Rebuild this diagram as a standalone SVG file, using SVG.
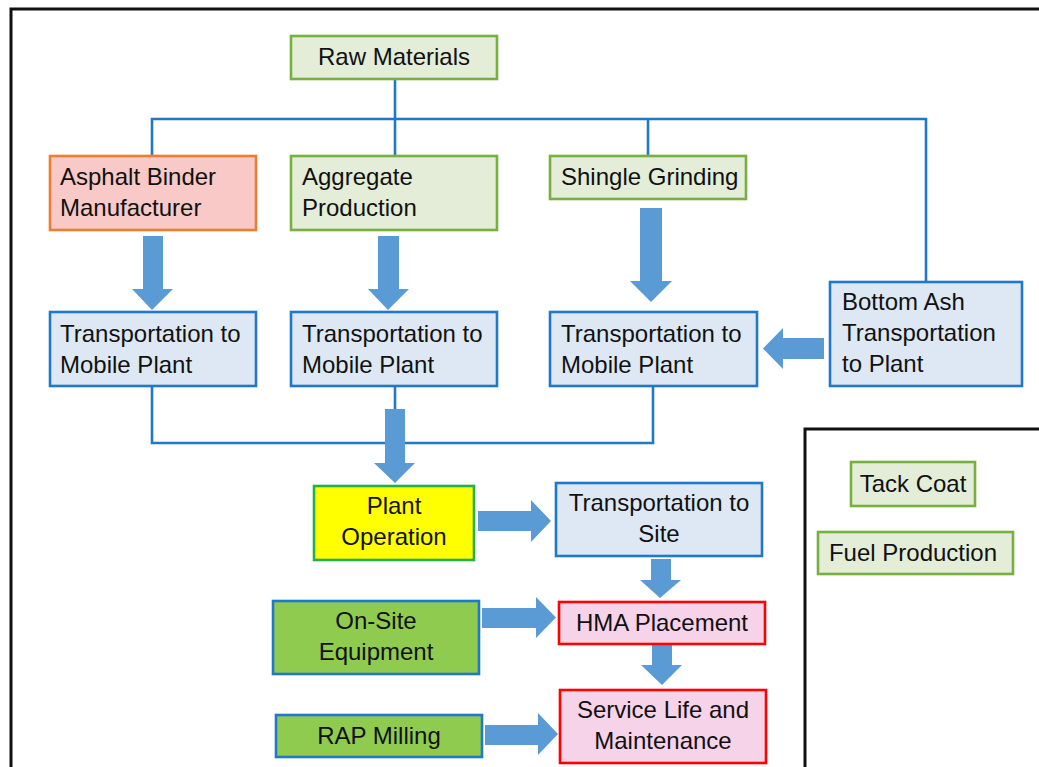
<svg xmlns="http://www.w3.org/2000/svg" width="1039" height="767" viewBox="0 0 1039 767">
  <style>
    .frame { fill: none; stroke: #111; stroke-width: 3; }
    .box { stroke-width: 2.6; }
    .green { fill: #E3EDD8; stroke: #77B041; }
    .orange { fill: #F8C9C7; stroke: #ED7D31; }
    .blue { fill: #DDE8F4; stroke: #1F78C8; }
    .red { fill: #F7D3E9; stroke: #FF0000; }
    .yellow { fill: #FFFF00; stroke: #21B04B; }
    .lime { fill: #8FCB4E; stroke: #1F78C8; }
    .link { fill: none; stroke: #1F78C8; stroke-width: 2.6; }
    .arrow { fill: #5B9BD5; }
    text { font-family: "Liberation Sans", Arial, sans-serif; font-size: 24px; fill: #111; }
    .c { text-anchor: middle; }
  </style>

  <!-- outer frame and side panel -->
  <path class="frame" d="M1039,9 H11 V767"/>
  <path class="frame" d="M1039,429 H805 V767"/>

  <!-- thin connector lines -->
  <g id="connectors">
    <path class="link" d="M395,79 V156"/>
    <path class="link" d="M152,156 V119 H926 V282"/>
    <path class="link" d="M648,119 V156"/>
    <path class="link" d="M152,386 V443 H653 V386"/>
    <path class="link" d="M395,386 V410"/>

    <!-- block arrows -->
    <path class="arrow" d="M143,236 H163 V289 H173 L152,310 L132,289 H143 Z"/>
    <path class="arrow" d="M378,236 H399 V289 H409 L388,310 L368,289 H378 Z"/>
    <path class="arrow" d="M640,208 H662 V281 H672 L651,302 L630,281 H640 Z"/>
    <path class="arrow" d="M824,338 V359 H783 V369 L763,348.5 L783,328 V338 Z"/>
    <path class="arrow" d="M385,409 H405 V463 H415 L395,483 L374,463 H385 Z"/>
    <path class="arrow" d="M478,511 H531 V500 L551,521 L531,542 V531 H478 Z"/>
    <path class="arrow" d="M651,559 H671 V580 H681 L660,598 L640,580 H651 Z"/>
    <path class="arrow" d="M652,645 H672 V665 H682 L662,685 L641,665 H652 Z"/>
    <path class="arrow" d="M482,608 H536 V597 L556,617.5 L536,638 V628 H482 Z"/>
    <path class="arrow" d="M485,725 H538 V713 L558,734 L538,755 V745 H485 Z"/>
  </g>

  <g id="raw-materials">
    <rect class="box green" x="291" y="36" width="206" height="43"/>
    <text class="c" x="394" y="65">Raw Materials</text>
  </g>

  <g id="asphalt-binder">
    <rect class="box orange" x="50" y="156" width="206" height="74"/>
    <text x="60" y="185">Asphalt Binder</text>
    <text x="60" y="216">Manufacturer</text>
  </g>

  <g id="aggregate">
    <rect class="box green" x="291" y="156" width="206" height="74"/>
    <text x="302" y="185">Aggregate</text>
    <text x="302" y="216">Production</text>
  </g>

  <g id="shingle">
    <rect class="box green" x="550" y="156" width="196" height="43"/>
    <text x="561" y="185">Shingle Grinding</text>
  </g>

  <g id="transport-1">
    <rect class="box blue" x="50" y="312" width="206" height="74"/>
    <text x="60" y="342">Transportation to</text>
    <text x="60" y="373">Mobile Plant</text>
  </g>

  <g id="transport-2">
    <rect class="box blue" x="291" y="312" width="206" height="74"/>
    <text x="302" y="342">Transportation to</text>
    <text x="302" y="373">Mobile Plant</text>
  </g>

  <g id="transport-3">
    <rect class="box blue" x="550" y="312" width="207" height="74"/>
    <text x="561" y="342">Transportation to</text>
    <text x="561" y="373">Mobile Plant</text>
  </g>

  <g id="bottom-ash">
    <rect class="box blue" x="830" y="282" width="192" height="104"/>
    <text x="842" y="310">Bottom Ash</text>
    <text x="842" y="341">Transportation</text>
    <text x="842" y="372">to Plant</text>
  </g>

  <g id="plant-operation">
    <rect class="box yellow" x="314" y="486" width="160" height="74"/>
    <text class="c" x="394" y="514">Plant</text>
    <text class="c" x="394" y="545">Operation</text>
  </g>

  <g id="transport-site">
    <rect class="box blue" x="556" y="483" width="206" height="73"/>
    <text class="c" x="659" y="511">Transportation to</text>
    <text class="c" x="659" y="542">Site</text>
  </g>

  <g id="on-site">
    <rect class="box lime" x="273" y="601" width="206" height="73"/>
    <text class="c" x="376" y="629">On-Site</text>
    <text class="c" x="376" y="660">Equipment</text>
  </g>

  <g id="hma">
    <rect class="box red" x="559" y="602" width="206" height="42"/>
    <text class="c" x="662" y="631">HMA Placement</text>
  </g>

  <g id="rap">
    <rect class="box lime" x="276" y="715" width="206" height="42"/>
    <text class="c" x="379" y="744">RAP Milling</text>
  </g>

  <g id="service-life">
    <rect class="box red" x="560" y="690" width="206" height="73"/>
    <text class="c" x="663" y="718">Service Life and</text>
    <text class="c" x="663" y="749">Maintenance</text>
  </g>

  <g id="tack-coat">
    <rect class="box green" x="851" y="462" width="124" height="44"/>
    <text class="c" x="913" y="492">Tack Coat</text>
  </g>

  <g id="fuel">
    <rect class="box green" x="818" y="532" width="195" height="42"/>
    <text class="c" x="913" y="561">Fuel Production</text>
  </g>
</svg>
